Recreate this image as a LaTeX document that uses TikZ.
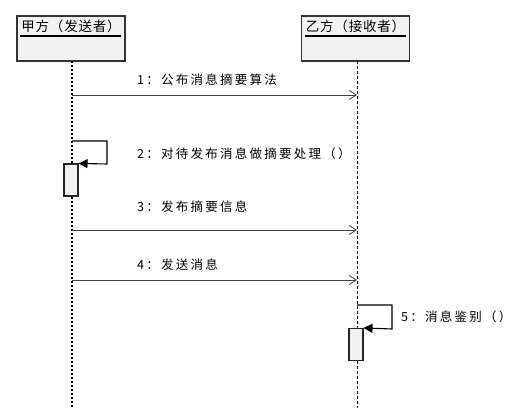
\documentclass[tikz,border=0pt]{standalone}
\usepackage{fontspec}
\setmainfont{Noto Sans CJK SC}
\newfontfamily\cjk{Noto Sans CJK SC}
\usetikzlibrary{arrows.meta}
\begin{document}
\begin{tikzpicture}[x=1pt,y=-1pt,
  actor/.style={draw=black!80,line width=1.2pt,fill=black!5,minimum width=108pt,minimum height=45pt,inner sep=0pt},
  msg/.style={draw=black!75,line width=.9pt,-{Straight Barb[length=7pt,width=9pt,line width=.8pt]}},
  selfmsg/.style={draw=black,line width=1.1pt,-{Triangle[length=9pt,width=9pt]}},
  actbox/.style={draw=black!85,line width=1.1pt,fill=black!5,minimum width=14pt,minimum height=32pt,inner sep=0pt},
  lbl/.style={anchor=west,inner sep=0pt,font=\fontsize{12.5}{13}\selectfont\addfontfeatures{LetterSpace=18}}]
\useasboundingbox (0,0) rectangle (515,414);
% actors
\node[actor] (sender) at (71,38.5) {};
\node[actor] (receiver) at (355.5,38.5) {};
\node[inner sep=0pt,font=\fontsize{13.5}{14}\selectfont\addfontfeatures{LetterSpace=6}] (sendername) at (71,26) {甲方（发送者）};
\node[inner sep=0pt,font=\fontsize{13.5}{14}\selectfont\addfontfeatures{LetterSpace=6}] (receivername) at (355.5,26) {乙方（接收者）};
\draw[line width=1.6pt] (20,36) -- (121,36);
\draw[line width=1.6pt] (305,36) -- (406,36);
% lifelines
\coordinate (sendend) at (72,408);
\coordinate (recvend) at (357,408);
\draw[line width=1.7pt,dash pattern=on 2pt off 2pt] (72,61) -- (sendend);
\draw[line width=1pt,dash pattern=on 3pt off 2pt] (357,61) -- (recvend);
% messages
\foreach \y/\n in {95/1,230/3,280/4} {
  \coordinate (s\n) at (72,\y);
  \coordinate (r\n) at (357,\y);
  \draw[msg] (s\n) -- (r\n);
}
\node[lbl] (m1) at (137,80) {1：公布消息摘要算法};
\node[lbl] (m3) at (137,207) {3：发布摘要信息};
\node[lbl] (m4) at (137,265) {4：发送消息};
% self calls
\node[actbox] (act1) at (71,180) {};
\node[actbox] (act2) at (356,344.5) {};
\coordinate (c2) at (72,141);
\draw[selfmsg] (c2) -- (107,141) -- (107,164) -- (act1.north east);
\coordinate (c5) at (357,305);
\draw[selfmsg] (c5) -- (392,305) -- (392,329) -- (act2.north east);
\node[lbl] (m2) at (137,154) {2：对待发布消息做摘要处理（）};
\node[lbl] (m5) at (401,317) {5：消息鉴别（）};
\end{tikzpicture}
\end{document}
